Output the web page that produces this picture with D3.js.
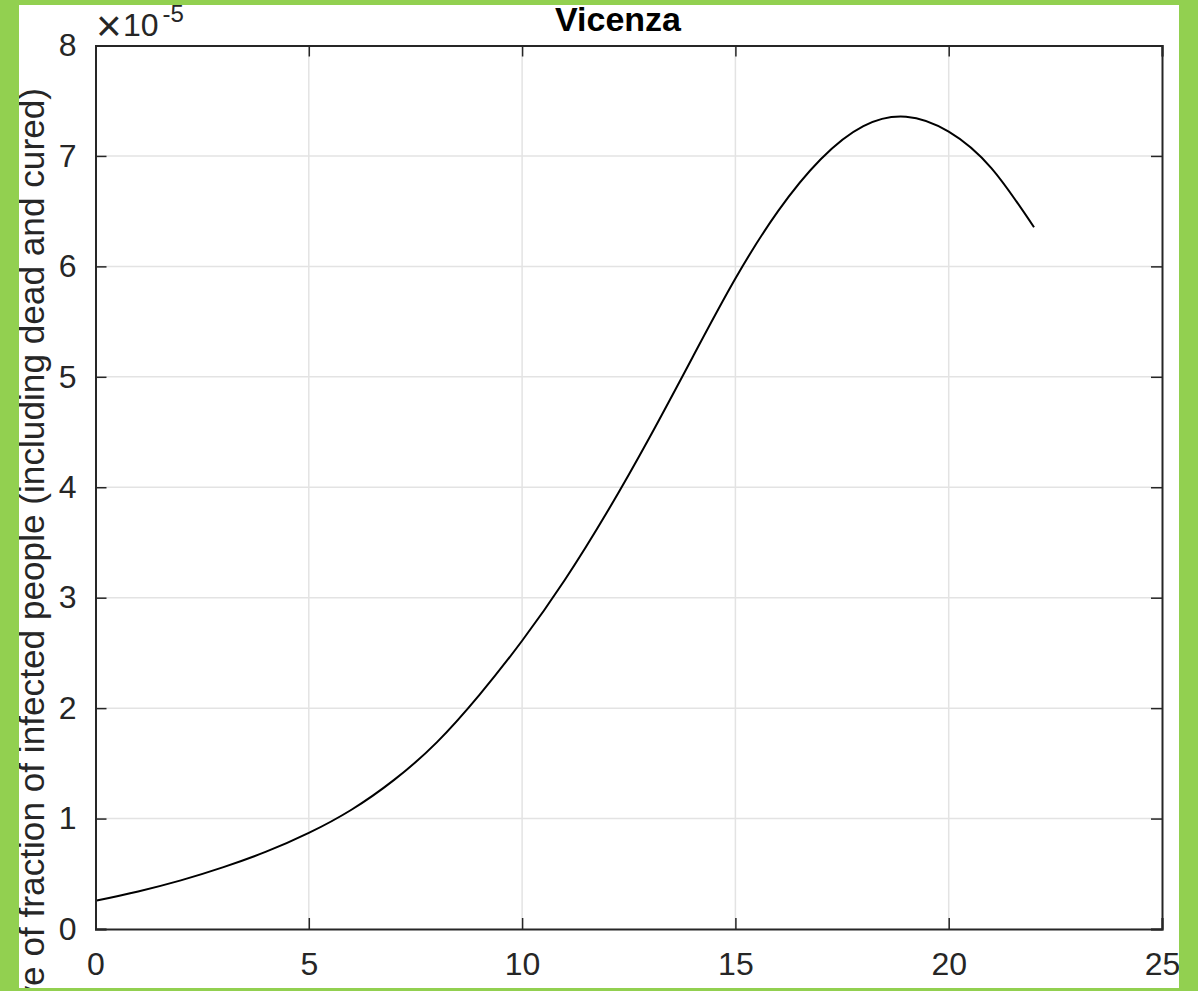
<!DOCTYPE html>
<html>
<head>
<meta charset="utf-8">
<script src="https://cdn.jsdelivr.net/npm/d3@7"></script>
<style>
  html, body { margin: 0; padding: 0; background: #92d050; }
  svg { display: block; }
</style>
</head>
<body>
<svg id="chart" width="1198" height="991"></svg>
<script>
// Data (values in units of 1e-5)
const days = [0, 1, 2, 3, 4, 5, 6, 7, 8, 9, 10, 11, 12, 13, 14, 15, 16, 17, 18, 19, 20, 21, 22];
const rate = [0.255, 0.34, 0.44, 0.56, 0.70, 0.87, 1.08, 1.35, 1.69, 2.12, 2.61, 3.16, 3.78, 4.46, 5.18, 5.89, 6.50, 6.97, 7.27, 7.355, 7.22, 6.89, 6.354];
const xTicks = [0, 5, 10, 15, 20, 25];
const yTicks = [0, 1, 2, 3, 4, 5, 6, 7, 8];
const titleText = "Vicenza";
const yLabel = "Derivative of fraction of infected people (including dead and cured)";

const svg = d3.select("#chart");
svg.append("rect").attr("x", 19).attr("y", 5).attr("width", 1160).attr("height", 983).attr("fill", "#fff");

const L = 95.5, R = 1162, T = 45.5, B = 929;
const x = d3.scaleLinear().domain([0, 25]).range([L, R]);
const y = d3.scaleLinear().domain([0, 8]).range([B, T]);

const axisColor = "#262626";
const font = "Helvetica, 'Liberation Sans', Arial, sans-serif";

// grid
const g = svg.append("g");
g.selectAll(".gx").data(xTicks.slice(1, -1)).enter().append("line")
  .attr("x1", d => x(d)).attr("x2", d => x(d)).attr("y1", T).attr("y2", B)
  .attr("stroke", "#e3e3e3").attr("stroke-width", 1.5);
g.selectAll(".gy").data(yTicks.slice(1, -1)).enter().append("line")
  .attr("y1", d => y(d)).attr("y2", d => y(d)).attr("x1", L).attr("x2", R)
  .attr("stroke", "#e3e3e3").attr("stroke-width", 1.5);

// curve
const line = d3.line().x((d, i) => x(days[i])).y(d => y(d)).curve(d3.curveNatural);
svg.append("path").datum(rate).attr("d", line)
  .attr("fill", "none").attr("stroke", "#000").attr("stroke-width", 2);

// axes with inner ticks
const tickLen = 11;
const axB = d3.axisBottom(x).tickValues(xTicks).tickSize(-tickLen).tickPadding(23).tickFormat(d3.format("d"));
const axT = d3.axisTop(x).tickValues(xTicks).tickSize(-tickLen).tickFormat("");
const axL = d3.axisLeft(y).tickValues(yTicks).tickSize(-tickLen).tickPadding(19).tickFormat(d3.format("d"));
const axR = d3.axisRight(y).tickValues(yTicks).tickSize(-tickLen).tickFormat("");

function style(sel) {
  sel.selectAll("path").attr("stroke", axisColor).attr("stroke-width", 2);
  sel.selectAll("line").attr("stroke", axisColor).attr("stroke-width", 1.5);
  sel.selectAll("text").attr("fill", axisColor).style("font-family", font).style("font-size", "32px");
}
svg.append("g").attr("transform", `translate(0,${B})`).call(axB).call(style);
svg.append("g").attr("transform", `translate(0,${T})`).call(axT).call(style);
svg.append("g").attr("transform", `translate(${L},0)`).call(axL).call(style);
svg.append("g").attr("transform", `translate(${R},0)`).call(axR).call(style);

// exponent label
svg.append("text").attr("x", 96).attr("y", 41).attr("fill", axisColor)
  .style("font-family", font).style("font-size", "44px").style("font-weight", "300").text("×");
const ex = svg.append("text").attr("x", 123).attr("y", 36).attr("fill", axisColor)
  .style("font-family", font).style("font-size", "32px");
ex.append("tspan").text("10");
ex.append("tspan").attr("dx", 4).attr("dy", -14).style("font-size", "24px").text("-5");

// title
svg.append("text").attr("x", 618).attr("y", 31).attr("text-anchor", "middle")
  .style("font-family", font).style("font-size", "34px").style("font-weight", "bold")
  .attr("fill", "#000").text(titleText);

// y label (anchored at its end, clipped by the frame like the reference)
svg.append("text").attr("transform", "translate(44,88) rotate(-90)")
  .attr("text-anchor", "end").attr("fill", axisColor)
  .style("font-family", font).style("font-size", "35.2px").text(yLabel);

// green frame overlay
svg.append("rect").attr("x", 0).attr("y", 0).attr("width", 19).attr("height", 991).attr("fill", "#92d050");
svg.append("rect").attr("x", 0).attr("y", 0).attr("width", 1198).attr("height", 5).attr("fill", "#92d050");
svg.append("rect").attr("x", 1179).attr("y", 0).attr("width", 19).attr("height", 991).attr("fill", "#92d050");
svg.append("rect").attr("x", 0).attr("y", 988).attr("width", 1198).attr("height", 3).attr("fill", "#92d050");
</script>
</body>
</html>
